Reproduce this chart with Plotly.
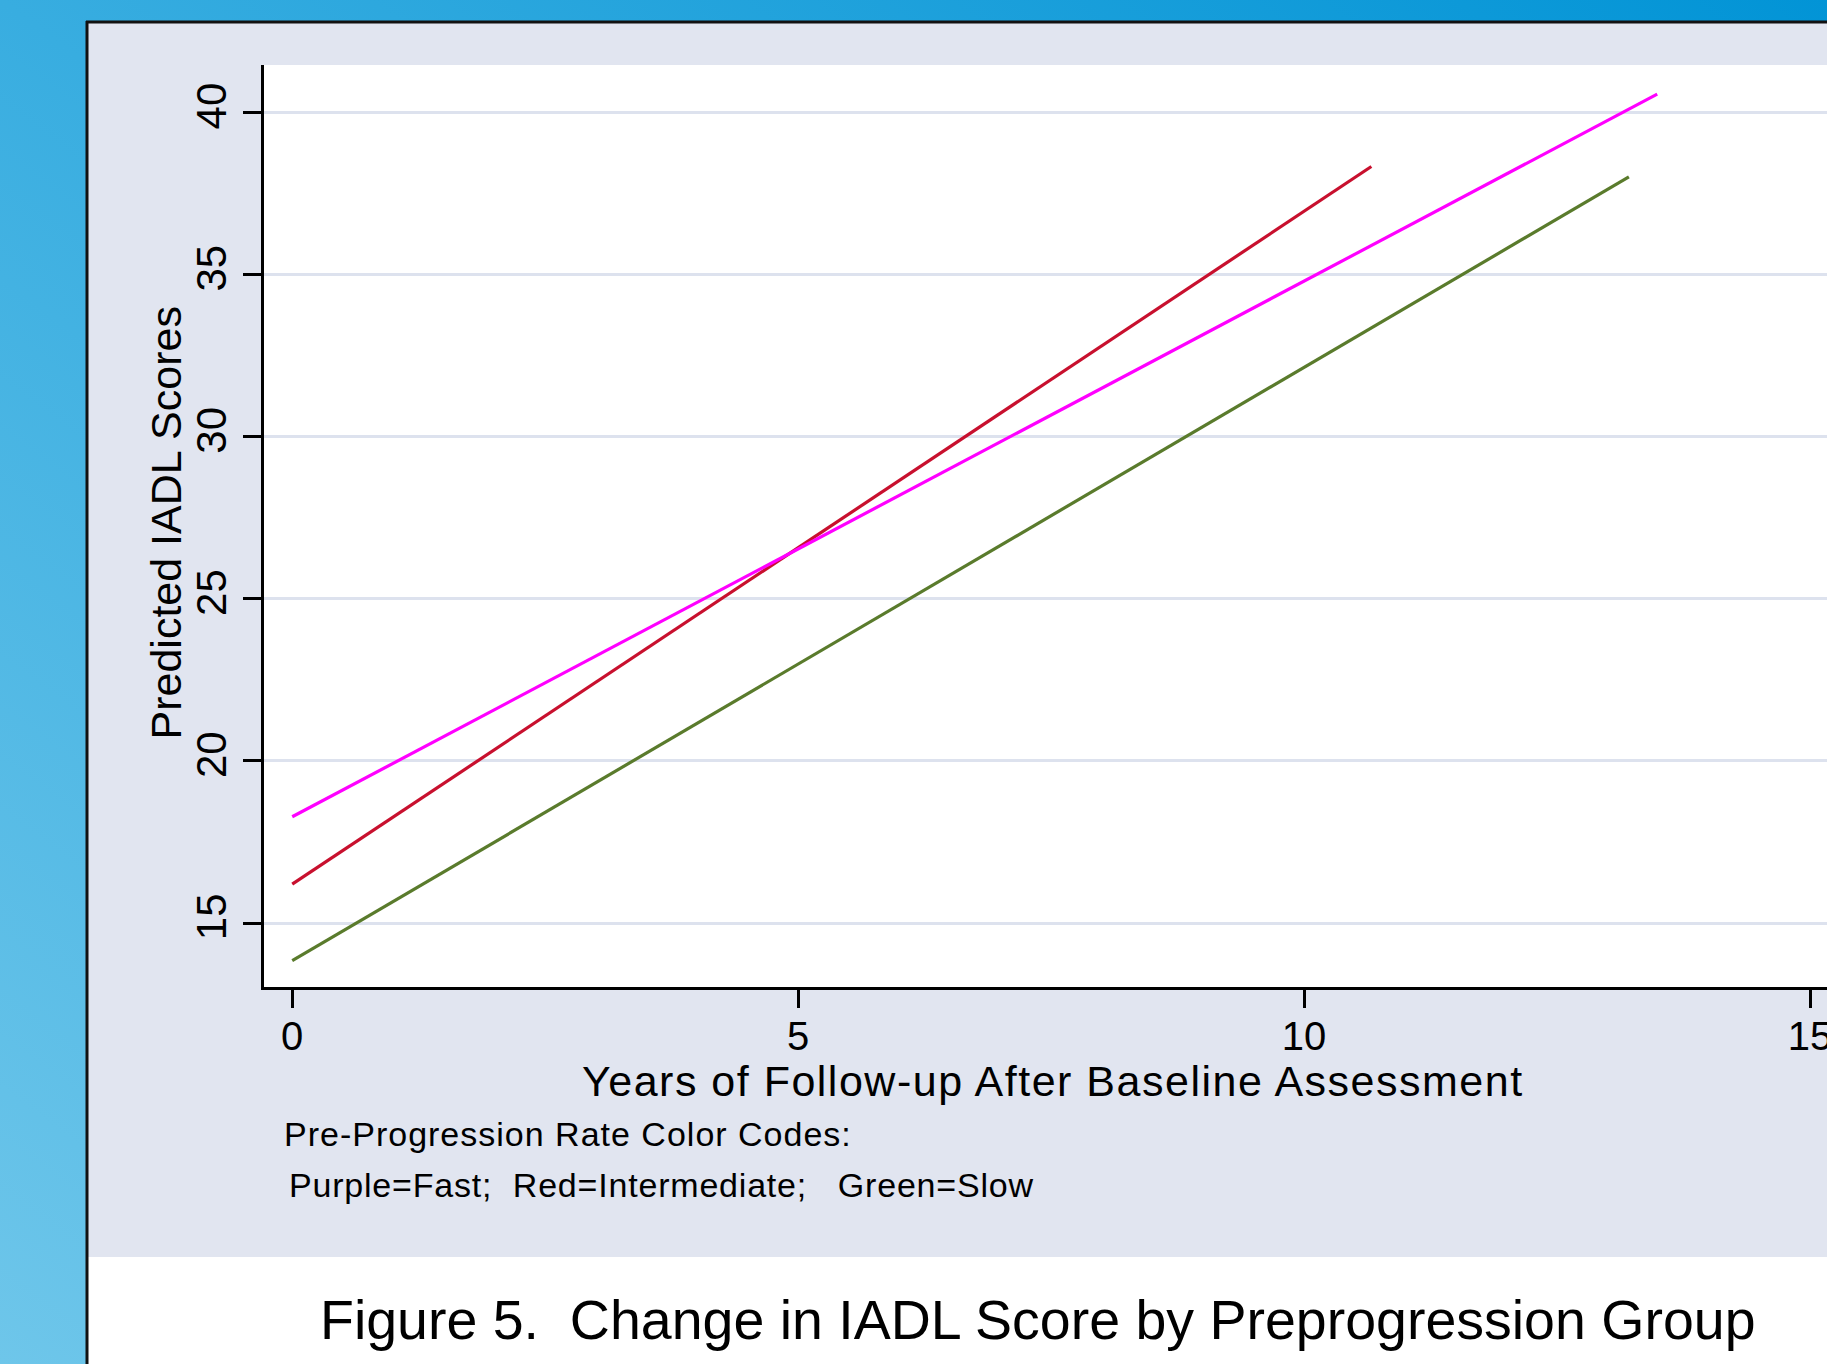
import base64
import plotly.graph_objects as go

# ---- data ----
years_fast = [0, 13.49]
iadl_fast = [18.28, 40.56]
years_inter = [0, 10.665]
iadl_inter = [16.2, 38.33]
years_slow = [0, 13.21]
iadl_slow = [13.84, 38.01]

x_ticks = [0, 5, 10, 15]
y_ticks = [15, 20, 25, 30, 35, 40]

W, H = 1827, 1364
L, R, T, B = 264, 0, 65, 377
PW, PH = W - L - R, H - T - B


def px(xp):
    return (xp - L) / PW


def py(yp):
    return (T + PH - yp) / PH


fig = go.Figure()
fig.add_trace(go.Scatter(x=years_slow, y=iadl_slow, mode="lines",
                         line=dict(color="#5A7B2C", width=3.2), name="Slow"))
fig.add_trace(go.Scatter(x=years_inter, y=iadl_inter, mode="lines",
                         line=dict(color="#C8102E", width=3.2), name="Intermediate"))
fig.add_trace(go.Scatter(x=years_fast, y=iadl_fast, mode="lines",
                         line=dict(color="#FF00FF", width=3.2), name="Fast"))

# blue slide background as an SVG gradient image
svg = (
    '<svg xmlns="http://www.w3.org/2000/svg" width="100" height="100" preserveAspectRatio="none" viewBox="0 0 100 100">'
    '<defs><linearGradient id="g" x1="1" y1="0" x2="0" y2="1">'
    '<stop offset="0" stop-color="#0294D6"/><stop offset="1" stop-color="#6EC6EA"/>'
    '</linearGradient></defs><rect width="100" height="100" fill="url(#g)"/></svg>'
)
src = "data:image/svg+xml;base64," + base64.b64encode(svg.encode()).decode()

gray = "#E1E5F0"
shapes = [
    # white slide box
    dict(type="rect", xref="paper", yref="paper", x0=px(86), x1=px(W + 5), y0=py(H + 5), y1=py(21),
         fillcolor="white", line=dict(width=0), layer="below"),
    # gray Stata graph region
    dict(type="rect", xref="paper", yref="paper", x0=px(88), x1=px(W + 5), y0=py(1257), y1=py(23),
         fillcolor=gray, line=dict(width=0), layer="below"),
    # white plot region
    dict(type="rect", xref="paper", yref="paper", x0=0, x1=px(W + 5), y0=0, y1=1,
         fillcolor="white", line=dict(width=0), layer="below"),
    # black frame lines
    dict(type="line", xref="paper", yref="paper", x0=px(87), x1=px(87), y0=py(H + 5), y1=py(21),
         line=dict(color="#111111", width=3), layer="below"),
    dict(type="line", xref="paper", yref="paper", x0=px(86), x1=px(W + 5), y0=py(22), y1=py(22),
         line=dict(color="#111111", width=3), layer="below"),
]

font = "Liberation Sans, Arial, sans-serif"
nb = "\u00a0"


def spaced(text, ls):
    return '<span style="letter-spacing:%spx">%s</span>' % (ls, text)


annotations = [
    dict(text="Predicted IADL Scores", xref="paper", yref="paper", x=px(165), y=py(523.5),
         textangle=-90, showarrow=False, xanchor="center", yanchor="middle",
         font=dict(family=font, size=43, color="black")),
    dict(text=spaced("Years of Follow-up After Baseline Assessment", 1.5), xref="paper", yref="paper",
         x=px(1053), y=py(1080.5), showarrow=False, xanchor="center", yanchor="middle",
         font=dict(family=font, size=43, color="black")),
    dict(text=spaced("Pre-Progression Rate Color Codes:", 1), xref="paper", yref="paper",
         x=px(282), y=py(1134), showarrow=False, xanchor="left", yanchor="middle",
         font=dict(family=font, size=34, color="black")),
    dict(text=spaced("Purple=Fast;" + nb * 2 + "Red=Intermediate;" + nb * 3 + "Green=Slow", 0.8),
         xref="paper", yref="paper", x=px(287), y=py(1185), showarrow=False,
         xanchor="left", yanchor="middle", font=dict(family=font, size=34, color="black")),
    dict(text="Figure 5." + nb * 2 + "Change in IADL Score by Preprogression Group",
         xref="paper", yref="paper", x=px(318), y=py(1320), showarrow=False,
         xanchor="left", yanchor="middle", font=dict(family=font, size=55.5, color="black")),
]

fig.update_layout(
    width=W, height=H,
    margin=dict(l=L, r=R, t=T, b=B, pad=0, autoexpand=False),
    paper_bgcolor="white",
    plot_bgcolor="white",
    showlegend=False,
    shapes=shapes,
    annotations=annotations,
    images=[dict(source=src, xref="paper", yref="paper", x=px(0), y=py(0),
                 sizex=W / PW, sizey=H / PH, xanchor="left", yanchor="top",
                 sizing="stretch", layer="below")],
    xaxis=dict(range=[-0.279, 15.168], tickvals=x_ticks, ticktext=[str(v) for v in x_ticks],
               showgrid=False, zeroline=False, showline=True, linecolor="black", linewidth=3,
               ticks="outside", ticklen=18, tickwidth=3, tickcolor="black",
               tickfont=dict(family=font, size=40, color="black"), ticklabelstandoff=-6,
               ticklabeloverflow="allow", automargin=False),
    yaxis=dict(range=[13.03, 41.46], tickvals=y_ticks, ticktext=[str(v) for v in y_ticks],
               showgrid=True, gridcolor="#DDE2EE", gridwidth=3, zeroline=False,
               showline=True, linecolor="black", linewidth=3,
               ticks="outside", ticklen=18, tickwidth=3, tickcolor="black", tickangle=-90,
               tickfont=dict(family=font, size=42, color="black"), ticklabelstandoff=0,
               automargin=False),
)

fig.write_html("out.html")
